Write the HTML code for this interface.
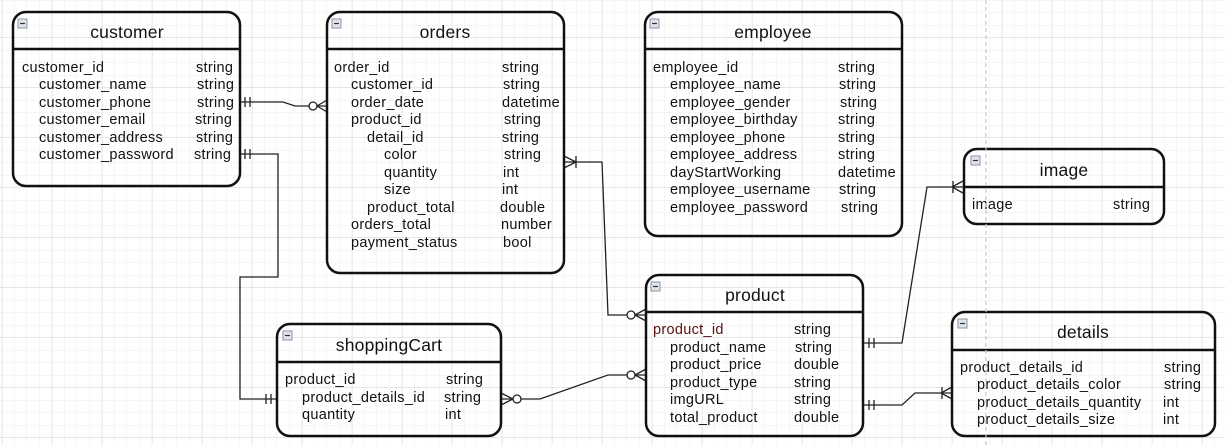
<!DOCTYPE html>
<html><head><meta charset="utf-8"><style>
html,body{margin:0;padding:0;background:#fff;width:1225px;height:445px;overflow:hidden}
svg{display:block}
text{font-family:"Liberation Sans",Arial,sans-serif;fill:#111}
.t{font-size:17.5px;text-anchor:middle;letter-spacing:0.2px}
.r{font-size:14.5px;letter-spacing:0.3px}
.b{fill:none;stroke:#111;stroke-width:2.5}
.l{fill:none;stroke:#222;stroke-width:1.3}
</style></head><body>
<svg width="1225" height="445" viewBox="0 0 1225 445" xmlns="http://www.w3.org/2000/svg">
<defs>
<pattern id="mi" width="12.5" height="12.5" patternUnits="userSpaceOnUse" x="2" y="0.5"><path d="M12.5 0V12.5M0 12.5H12.5" stroke="#eeeeee" stroke-width="1" fill="none"/></pattern>
<pattern id="ma" width="50" height="50" patternUnits="userSpaceOnUse" x="2" y="37"><path d="M0 0V50M0 0H50" stroke="#dddddd" stroke-width="1" fill="none"/></pattern>
<g id="mn"><rect x="0" y="0" width="9" height="9" fill="#dfe3ea" stroke="#8a94a6" stroke-width="1"/><line x1="2" y1="4.5" x2="7" y2="4.5" stroke="#333" stroke-width="1.2"/></g>
</defs>
<rect width="1225" height="445" fill="url(#mi)"/>
<rect width="1225" height="445" fill="url(#ma)"/>

<path class="l" d="M240 102H283L295 106H327"/>
<path class="l" d="M245 97V107M250 97V107"/>
<circle cx="313" cy="106" r="4" fill="#fff" stroke="#222" stroke-width="1.3"/>
<path class="l" d="M317 106L327 100M317 106L327 112"/>

<path class="l" d="M240 154H278V277H240V399H277"/>
<path class="l" d="M245 149V159M250 149V159M266 394V404M271 394V404"/>

<path class="l" d="M564 162H602L608 315H646"/>
<path class="l" d="M564 156L576 162L564 168M576 156V168"/>
<circle cx="631" cy="315" r="4" fill="#fff" stroke="#222" stroke-width="1.3"/>
<path class="l" d="M635 315L646 309M635 315L646 321"/>

<path class="l" d="M501 399H540L608 375H646"/>
<path class="l" d="M501 393L513 399L501 405"/>
<circle cx="517" cy="399" r="4" fill="#fff" stroke="#222" stroke-width="1.3"/>
<circle cx="631" cy="375" r="4" fill="#fff" stroke="#222" stroke-width="1.3"/>
<path class="l" d="M635 375L646 369M635 375L646 381"/>

<path class="l" d="M863 343H902L927 187H963"/>
<path class="l" d="M869 338V348M874 338V348M963 181L952 187L963 193M953 181V193"/>

<path class="l" d="M863 405H902L915 393H952"/>
<path class="l" d="M869 400V410M874 400V410M952 387L941 393L952 399M942 387V399"/>

<rect class="b" x="13" y="12" width="227" height="174" rx="13" fill="none"/>
<line class="b" x1="13" y1="49" x2="240" y2="49"/>
<use href="#mn" x="18" y="19"/>
<text class="t" x="127" y="38">customer</text>
<g class="r"><text x="22" y="72">customer_id</text><text x="39" y="89">customer_name</text><text x="39" y="107">customer_phone</text><text x="39" y="124">customer_email</text><text x="39" y="142">customer_address</text><text x="39" y="159">customer_password</text>
<text x="196" y="72">string</text><text x="197" y="89">string</text><text x="197" y="107">string</text><text x="195" y="124">string</text><text x="196" y="142">string</text><text x="194" y="159">string</text></g>

<rect class="b" x="327" y="12" width="237" height="261" rx="13"/>
<line class="b" x1="327" y1="49" x2="564" y2="49"/>
<use href="#mn" x="332" y="19"/>
<text class="t" x="445" y="38">orders</text>
<g class="r"><text x="334" y="72">order_id</text><text x="351" y="89">customer_id</text><text x="351" y="107">order_date</text><text x="351" y="124">product_id</text><text x="367" y="142">detail_id</text><text x="384" y="159">color</text><text x="384" y="177">quantity</text><text x="384" y="194">size</text><text x="367" y="212">product_total</text><text x="351" y="229">orders_total</text><text x="351" y="247">payment_status</text>
<text x="502" y="72">string</text><text x="503" y="89">string</text><text x="502" y="107">datetime</text><text x="504" y="124">string</text><text x="502" y="142">string</text><text x="504" y="159">string</text><text x="503" y="177">int</text><text x="502" y="194">int</text><text x="500" y="212">double</text><text x="501" y="229">number</text><text x="503" y="247">bool</text></g>

<rect class="b" x="645" y="12" width="257" height="224" rx="13"/>
<line class="b" x1="645" y1="49" x2="902" y2="49"/>
<use href="#mn" x="650" y="19"/>
<text class="t" x="773" y="38">employee</text>
<g class="r"><text x="653" y="72">employee_id</text><text x="670" y="89">employee_name</text><text x="670" y="107">employee_gender</text><text x="670" y="124">employee_birthday</text><text x="670" y="142">employee_phone</text><text x="670" y="159">employee_address</text><text x="670" y="177">dayStartWorking</text><text x="670" y="194">employee_username</text><text x="670" y="212">employee_password</text>
<text x="838" y="72">string</text><text x="839" y="89">string</text><text x="840" y="107">string</text><text x="838" y="124">string</text><text x="838" y="142">string</text><text x="838" y="159">string</text><text x="838" y="177">datetime</text><text x="839" y="194">string</text><text x="841" y="212">string</text></g>

<rect class="b" x="964" y="149" width="200" height="75" rx="13"/>
<line class="b" x1="964" y1="187" x2="1164" y2="187"/>
<use href="#mn" x="971" y="156"/>
<text class="t" x="1064" y="176">image</text>
<g class="r"><text x="972" y="209">image</text><text x="1113" y="209">string</text></g>

<rect class="b" x="646" y="275" width="217" height="161" rx="13"/>
<line class="b" x1="646" y1="312" x2="863" y2="312"/>
<use href="#mn" x="651" y="282"/>
<text class="t" x="755" y="301">product</text>
<g class="r"><text x="653" y="334" style="fill:#5a1010">product_id</text><text x="670" y="352">product_name</text><text x="670" y="369">product_price</text><text x="670" y="387">product_type</text><text x="670" y="404">imgURL</text><text x="670" y="422">total_product</text>
<text x="794" y="334">string</text><text x="795" y="352">string</text><text x="794" y="369">double</text><text x="794" y="387">string</text><text x="794" y="404">string</text><text x="794" y="422">double</text></g>

<rect class="b" x="277" y="324" width="224" height="112" rx="13"/>
<line class="b" x1="277" y1="362" x2="501" y2="362"/>
<use href="#mn" x="283" y="331"/>
<text class="t" x="389" y="351">shoppingCart</text>
<g class="r"><text x="285" y="384">product_id</text><text x="302" y="402">product_details_id</text><text x="302" y="419">quantity</text>
<text x="446" y="384">string</text><text x="444" y="402">string</text><text x="445" y="419">int</text></g>

<rect class="b" x="952" y="312" width="263" height="124" rx="13"/>
<line class="b" x1="952" y1="350" x2="1215" y2="350"/>
<use href="#mn" x="958" y="319"/>
<text class="t" x="1083" y="338">details</text>
<g class="r"><text x="960" y="372">product_details_id</text><text x="977" y="389">product_details_color</text><text x="977" y="407">product_details_quantity</text><text x="977" y="424">product_details_size</text>
<text x="1164" y="372">string</text><text x="1164" y="389">string</text><text x="1163" y="407">int</text><text x="1163" y="424">int</text></g>

<line x1="986" y1="0" x2="986" y2="445" stroke="#c8c8c8" stroke-width="1.2" stroke-dasharray="4 3"/>
</svg>
</body></html>
